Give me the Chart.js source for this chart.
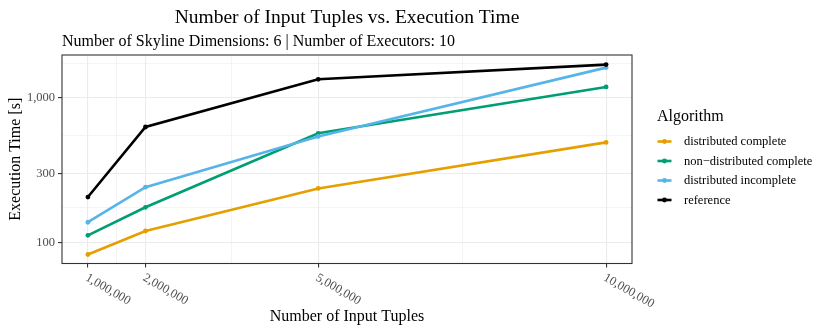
<!DOCTYPE html>
<html>
<head>
<meta charset="utf-8">
<script src="https://cdn.jsdelivr.net/npm/chart.js@4"></script>
<style>
  body { margin: 0; background: #fff; }
  canvas { display: block; }
</style>
</head>
<body>
<canvas id="myChart" width="830" height="332"></canvas>
<script>
// Data
const inputTuples = [1000000, 2000000, 5000000, 10000000];
const distributedComplete = [82.6, 120, 236, 491];
const nonDistributedComplete = [112, 175, 567, 1185];
const distributedIncomplete = [138, 241, 540, 1612];
const referenceTimes = [206, 627, 1339, 1691];

const seriesNames = ['distributed complete', 'non\u2212distributed complete', 'distributed incomplete', 'reference'];
const xMajorTicks = [1000000, 2000000, 5000000, 10000000];
const xMinorTicks = [1500000, 3500000, 7500000];
const yMajorTicks = [100, 300, 1000];
const yMinorTicks = [173.2, 547.7, 1732];

const COLORS = ['#E69F00', '#009E73', '#56B4E9', '#000000'];
const SERIF = '"Liberation Serif", "DejaVu Serif", serif';

function toPoints(values) {
    return values.map((v, i) => ({ x: inputTuples[i], y: v }));
}

function fmt(v) {
    return v.toLocaleString('en-US');
}

const allSeries = [distributedComplete, nonDistributedComplete, distributedIncomplete, referenceTimes];

const datasets = allSeries.map((vals, i) => ({
    label: seriesNames[i],
    data: toPoints(vals),
    borderColor: COLORS[i],
    backgroundColor: COLORS[i],
    borderWidth: 2.6,
    pointRadius: 2.4,
    pointBorderWidth: 0,
    pointHoverRadius: 2.4,
    tension: 0,
    order: 4 - i,
}));

const isMinor = (ctx) => ctx.tick && ctx.tick.minor;

function gridOpts() {
    return {
        color: '#EBEBEB',
        lineWidth: (ctx) => isMinor(ctx) ? 0.55 : 1.1,
        drawTicks: true,
        tickLength: 4,
        tickColor: (ctx) => isMinor(ctx) ? 'rgba(0,0,0,0)' : '#333333',
        tickWidth: 1.1,
    };
}

// Texts, border and legend drawn on top
const decorations = {
    id: 'decorations',
    afterDraw(chart) {
        const ctx = chart.ctx;
        const area = chart.chartArea;
        const xs = chart.scales.x;
        ctx.save();

        // panel border
        ctx.strokeStyle = '#333333';
        ctx.lineWidth = 1.1;
        ctx.strokeRect(area.left, area.top, area.right - area.left, area.bottom - area.top);

        // title + subtitle
        ctx.fillStyle = '#000';
        ctx.textBaseline = 'alphabetic';
        ctx.font = '19.5px ' + SERIF;
        ctx.textAlign = 'center';
        ctx.fillText('Number of Input Tuples vs. Execution Time', (area.left + area.right) / 2, 23);
        ctx.font = '16px ' + SERIF;
        ctx.textAlign = 'left';
        ctx.fillText('Number of Skyline Dimensions: 6 | Number of Executors: 10', area.left, 46);

        // axis titles
        ctx.textAlign = 'center';
        ctx.fillText('Number of Input Tuples', (area.left + area.right) / 2, 321);
        ctx.save();
        ctx.translate(20, (area.top + area.bottom) / 2);
        ctx.rotate(-Math.PI / 2);
        ctx.fillText('Execution Time [s]', 0, 0);
        ctx.restore();

        // x tick labels, rotated
        ctx.fillStyle = '#4D4D4D';
        ctx.font = '12.5px ' + SERIF;
        ctx.textAlign = 'left';
        ctx.textBaseline = 'top';
        xMajorTicks.forEach(v => {
            const px = xs.getPixelForValue(v);
            ctx.save();
            ctx.translate(px + 1.5, area.bottom + 8);
            ctx.rotate(Math.PI / 6);
            ctx.fillText(fmt(v), 0, 0);
            ctx.restore();
        });

        // legend
        ctx.fillStyle = '#000';
        ctx.font = '16px ' + SERIF;
        ctx.textBaseline = 'middle';
        ctx.fillText('Algorithm', 657, 117);
        ctx.font = '12.5px ' + SERIF;
        const rows = [141.5, 161, 180.5, 200];
        seriesNames.forEach((name, i) => {
            const y = rows[i];
            ctx.strokeStyle = COLORS[i];
            ctx.lineWidth = 2.6;
            ctx.beginPath();
            ctx.moveTo(657.5, y);
            ctx.lineTo(671.5, y);
            ctx.stroke();
            ctx.fillStyle = COLORS[i];
            ctx.beginPath();
            ctx.arc(664.5, y, 2.4, 0, Math.PI * 2);
            ctx.fill();
            ctx.fillStyle = '#000';
            ctx.fillText(name, 684, y + 0.5);
        });

        ctx.restore();
    }
};

const config = {
    type: 'line',
    data: { datasets: datasets },
    options: {
        responsive: false,
        animation: false,
        layout: { padding: { left: 0, top: 55, right: 198, bottom: 0 } },
        plugins: {
            legend: { display: false },
            title: { display: false },
            tooltip: { enabled: false },
        },
        scales: {
            x: {
                type: 'linear',
                min: 550000,
                max: 10450000,
                border: { display: false },
                grid: gridOpts(),
                ticks: { display: false },
                afterBuildTicks(scale) {
                    scale.ticks = xMajorTicks.map(v => ({ value: v }))
                        .concat(xMinorTicks.map(v => ({ value: v, minor: true })));
                },
                afterFit(scale) { scale.height = 68.5; },
            },
            y: {
                type: 'logarithmic',
                min: 71.6,
                max: 1970,
                border: { display: false },
                grid: gridOpts(),
                ticks: {
                    autoSkip: false,
                    padding: 3,
                    color: '#4D4D4D',
                    font: { family: SERIF, size: 12.5 },
                    callback(value) {
                        return yMajorTicks.includes(value) ? fmt(value) : '';
                    },
                },
                afterBuildTicks(scale) {
                    scale.ticks = yMajorTicks.map(v => ({ value: v }))
                        .concat(yMinorTicks.map(v => ({ value: v, minor: true })));
                },
                afterFit(scale) { scale.width = 62; },
            },
        },
    },
    plugins: [decorations],
};

const myChart = new Chart(document.getElementById('myChart'), config);
</script>
</body>
</html>
